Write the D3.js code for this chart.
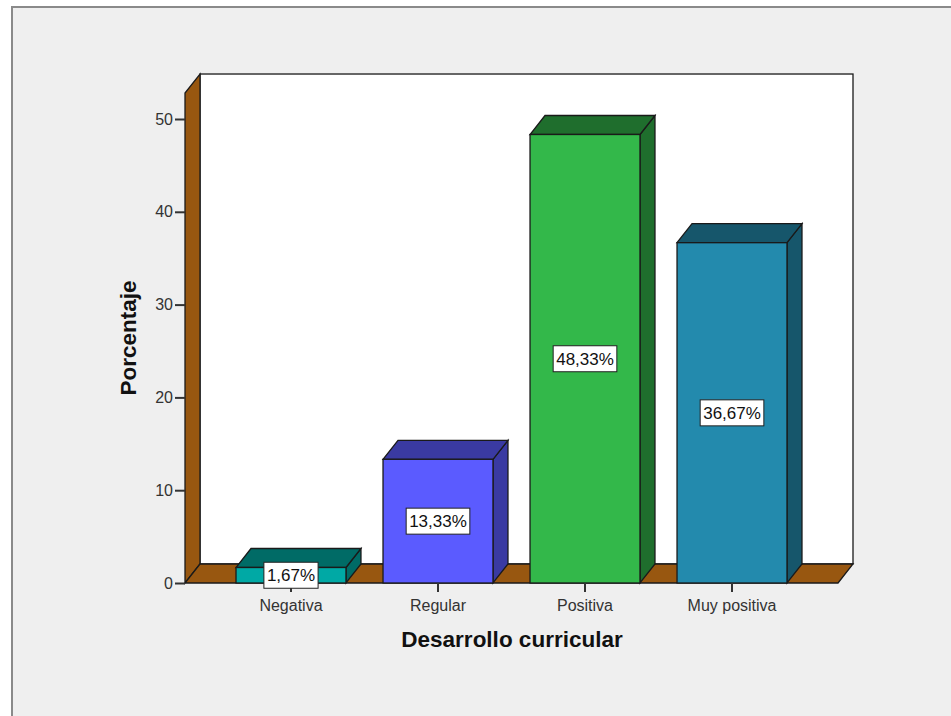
<!DOCTYPE html>
<html>
	<head>
		<title>Desarrollo curricular</title>
		<style>
			body, html { margin: 0; padding: 0; background: #fff; }
			text { font-family: "Liberation Sans", Arial, sans-serif; }
			.tick text { font-size: 16px; fill: #333; }
			.tick line { stroke: #333; stroke-width: 2px; }
			.face { stroke: #1a1a1a; stroke-width: 1.3px; }
		</style>
	</head>
	<body>
		<svg id="svg" width="951" height="716"></svg>

		<script src="https://d3js.org/d3.v7.min.js"></script>
		<script>
			// Data
			const categories = ['Negativa', 'Regular', 'Positiva', 'Muy positiva']
			const percents = [1.67, 13.33, 48.33, 36.67]
			const yTicks = [0, 10, 20, 30, 40, 50]
			const frontColors = ['#00a9a5', '#5b5bff', '#33b84a', '#238aad']
			const darkColors = ['#006b66', '#3a3aa2', '#1f6e2d', '#16566b']

			const brown = '#985710'
			const dx = 15, dy = -19   // depth of the 3D effect
			const yMax = 52.8         // the wall goes a bit above the top tick

			const svg = d3.select('#svg')

			// outer frame
			svg.append('rect')
				.attr('x', 12).attr('y', 7)
				.attr('width', 960).attr('height', 720)
				.attr('fill', '#efefef')
				.attr('stroke', '#8a8a8a')
				.attr('stroke-width', 2)

			const y = d3.scaleLinear().domain([0, 50]).range([583, 119])
			const x = d3.scaleBand()
				.domain(categories)
				.range([185, 838])
				.paddingInner(0.252)
				.paddingOuter(0.347)

			const x0 = x.range()[0], x1 = x.range()[1]
			const y0 = y(0), yT = y(yMax)
			const pts = p => p.map(d => d.join(',')).join(' ')

			const g = svg.append('g')

			// back wall
			g.append('rect')
				.attr('x', x0 + dx).attr('y', yT + dy)
				.attr('width', x1 - x0).attr('height', y0 - yT)
				.attr('fill', '#fff').attr('class', 'face')

			// left wall
			g.append('polygon')
				.attr('points', pts([[x0, y0], [x0, yT], [x0 + dx, yT + dy], [x0 + dx, y0 + dy]]))
				.attr('fill', brown).attr('class', 'face')

			// floor
			g.append('polygon')
				.attr('points', pts([[x0, y0], [x1, y0], [x1 + dx, y0 + dy], [x0 + dx, y0 + dy]]))
				.attr('fill', brown).attr('class', 'face')

			// bars
			const bars = g.selectAll('.bar')
				.data(categories)
				.join('g')
				.attr('class', 'bar')

			bars.each(function (c, i) {
				const b = d3.select(this)
				const l = x(c), r = x(c) + x.bandwidth(), t = y(percents[i])
				// side
				b.append('polygon')
					.attr('points', pts([[r, y0], [r, t], [r + dx, t + dy], [r + dx, y0 + dy]]))
					.attr('fill', darkColors[i]).attr('class', 'face')
				// top
				b.append('polygon')
					.attr('points', pts([[l, t], [r, t], [r + dx, t + dy], [l + dx, t + dy]]))
					.attr('fill', darkColors[i]).attr('class', 'face')
				// front
				b.append('rect')
					.attr('x', l).attr('y', t)
					.attr('width', r - l).attr('height', y0 - t)
					.attr('fill', frontColors[i]).attr('class', 'face')
			})

			// axes
			const yAxis = svg.append('g')
				.attr('transform', `translate(${x0},0)`)
				.call(d3.axisLeft(y).tickValues(yTicks).tickSize(10).tickSizeOuter(0).tickPadding(2))
			yAxis.select('.domain').remove()

			const xAxis = svg.append('g')
				.attr('transform', `translate(0,${y0})`)
				.call(d3.axisBottom(x).tickSize(9).tickSizeOuter(0).tickPadding(8))
			xAxis.select('.domain').remove()

			// value labels (drawn over the axis ticks)
			const labels = svg.append('g').selectAll('.lab')
				.data(categories)
				.join('g')
				.attr('class', 'lab')
				.attr('transform', (c, i) => `translate(${x(c) + x.bandwidth() / 2},${(y(percents[i]) + y0) / 2})`)

			labels.append('rect')
				.attr('fill', '#fff')
				.attr('stroke', '#222')
				.attr('stroke-width', 1)

			labels.append('text')
				.attr('text-anchor', 'middle')
				.attr('dy', '0.36em')
				.style('font-size', '17px')
				.attr('fill', '#111')
				.text((c, i) => percents[i].toFixed(2).replace('.', ',') + '%')

			// size each box around its text
			labels.each(function () {
				const bb = d3.select(this).select('text').node().getBBox()
				d3.select(this).select('rect')
					.attr('x', -bb.width / 2 - 3).attr('y', -13)
					.attr('width', bb.width + 6).attr('height', 26)
			})

			// titles
			svg.append('text')
				.attr('transform', 'translate(136,338) rotate(-90)')
				.attr('text-anchor', 'middle')
				.style('font-size', '22.5px')
				.style('font-weight', 'bold')
				.attr('fill', '#111')
				.text('Porcentaje')

			svg.append('text')
				.attr('x', 512).attr('y', 647)
				.attr('text-anchor', 'middle')
				.style('font-size', '22.5px')
				.style('font-weight', 'bold')
				.attr('fill', '#111')
				.text('Desarrollo curricular')
		</script>
	</body>
</html>
